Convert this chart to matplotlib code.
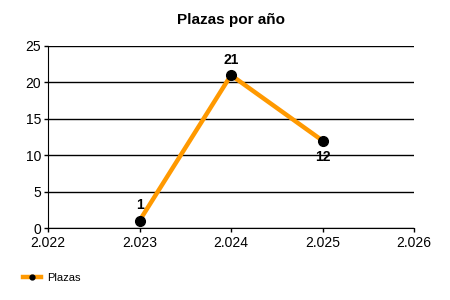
import matplotlib.pyplot as plt
from matplotlib.ticker import FuncFormatter, MultipleLocator

years = [2023, 2024, 2025]
plazas = [1, 21, 12]
label_pos = ['above', 'above', 'below']

plt.rcParams['font.family'] = ['Liberation Sans', 'DejaVu Sans']

fig = plt.figure(figsize=(4.5, 3), dpi=100)
ax = fig.add_axes([0.1067, 0.24, 0.8133, 0.6067])

ax.plot(years, plazas, color='#FF9900', linewidth=3.2, marker='o',
        markersize=7, markerfacecolor='black', markeredgecolor='black',
        label='Plazas', zorder=3)
for x, y, pos in zip(years, plazas, label_pos):
    dy = 11 if pos == 'above' else -12
    ax.annotate(str(y), (x, y), xytext=(0, dy), textcoords='offset points',
                ha='center', va='center', fontsize=10, fontweight='bold')

ax.set_xlim(2022, 2026)
ax.set_ylim(0, 25)
ax.xaxis.set_major_locator(MultipleLocator(1))
ax.yaxis.set_major_locator(MultipleLocator(5))
ax.xaxis.set_major_formatter(FuncFormatter(lambda v, p: '{:,.0f}'.format(v).replace(',', '.')))
ax.grid(axis='y', color='black', linewidth=1)
ax.set_axisbelow(True)
for s in ['top', 'right']:
    ax.spines[s].set_visible(False)
ax.tick_params(labelsize=10, length=3, width=1, colors='black', pad=2)
ax.tick_params(axis='x', pad=3)

ax.set_title('Plazas por año', fontsize=11, fontweight='bold', pad=16)

fig.legend(loc='center left', bbox_to_anchor=(0.05, 0.073), frameon=False,
           fontsize=8, handlelength=1.7, handletextpad=0.5, markerscale=0.5,
           borderpad=0, borderaxespad=0)

plt.savefig('out.png', dpi=100)
